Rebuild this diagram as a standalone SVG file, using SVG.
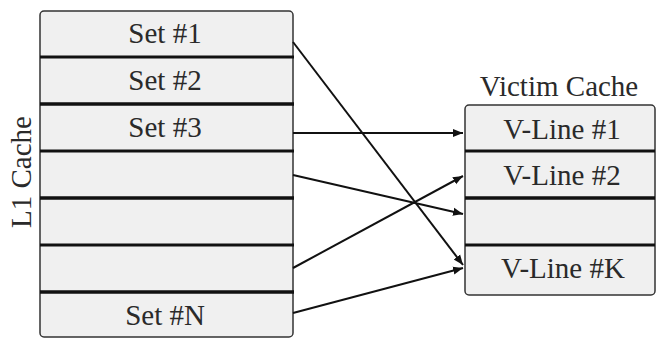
<svg xmlns="http://www.w3.org/2000/svg" width="658" height="338" viewBox="0 0 658 338">
  <defs>
    <marker id="arrow" viewBox="0 0 10 10" refX="10" refY="5" markerWidth="5" markerHeight="5" orient="auto" markerUnits="strokeWidth">
      <path d="M0,1 L10,5 L0,9 Z" fill="#111"/>
    </marker>
    <style>
      .box { fill: #f0f0f0; stroke: #333; stroke-width: 1.5; }
      .div { stroke: #111; stroke-width: 3.5; }
      .div-thin { stroke: #111; stroke-width: 3; }
      .label { font-family: "Liberation Serif", "Times New Roman", serif; font-size: 29px; fill: #2a2a2a; text-anchor: middle; }
      .edge { stroke: #111; stroke-width: 2; fill: none; marker-end: url(#arrow); }
    </style>
  </defs>
  <rect width="658" height="338" fill="#fff"/>

  <!-- L1 cache sets -->
  <g id="l1-cache">
    <rect class="box" x="40" y="11" width="253" height="326" rx="4"/>
    <line class="div-thin" x1="40" y1="57" x2="294" y2="57"/>
    <line class="div" x1="40" y1="104" x2="294" y2="104"/>
    <line class="div-thin" x1="40" y1="151" x2="294" y2="151"/>
    <line class="div" x1="40" y1="198" x2="294" y2="198"/>
    <line class="div-thin" x1="40" y1="245" x2="294" y2="245"/>
    <line class="div" x1="40" y1="292" x2="294" y2="292"/>
    <text class="label" x="165" y="43">Set #1</text>
    <text class="label" x="165" y="90">Set #2</text>
    <text class="label" x="165" y="137">Set #3</text>
    <text class="label" x="165" y="325">Set #N</text>
    <text class="label" transform="translate(31,172) rotate(-90)">L1 Cache</text>
  </g>

  <!-- Victim cache lines -->
  <g id="victim-cache">
    <text class="label" x="559" y="96">Victim Cache</text>
    <rect class="box" x="465" y="105" width="190" height="190" rx="4"/>
    <line class="div-thin" x1="465" y1="151" x2="655" y2="151"/>
    <line class="div" x1="465" y1="198" x2="655" y2="198"/>
    <line class="div-thin" x1="465" y1="245" x2="655" y2="245"/>
    <text class="label" x="562" y="139">V-Line #1</text>
    <text class="label" x="562" y="185">V-Line #2</text>
    <text class="label" x="563" y="278">V-Line #K</text>
  </g>

  <!-- Mappings from L1 sets to victim lines -->
  <g id="connectors">
    <line class="edge" x1="293" y1="42" x2="463" y2="265"/>
    <line class="edge" x1="293" y1="133" x2="463" y2="133"/>
    <line class="edge" x1="293" y1="175" x2="463" y2="214"/>
    <line class="edge" x1="293" y1="268" x2="463" y2="176"/>
    <line class="edge" x1="293" y1="313" x2="463" y2="268"/>
  </g>
</svg>
